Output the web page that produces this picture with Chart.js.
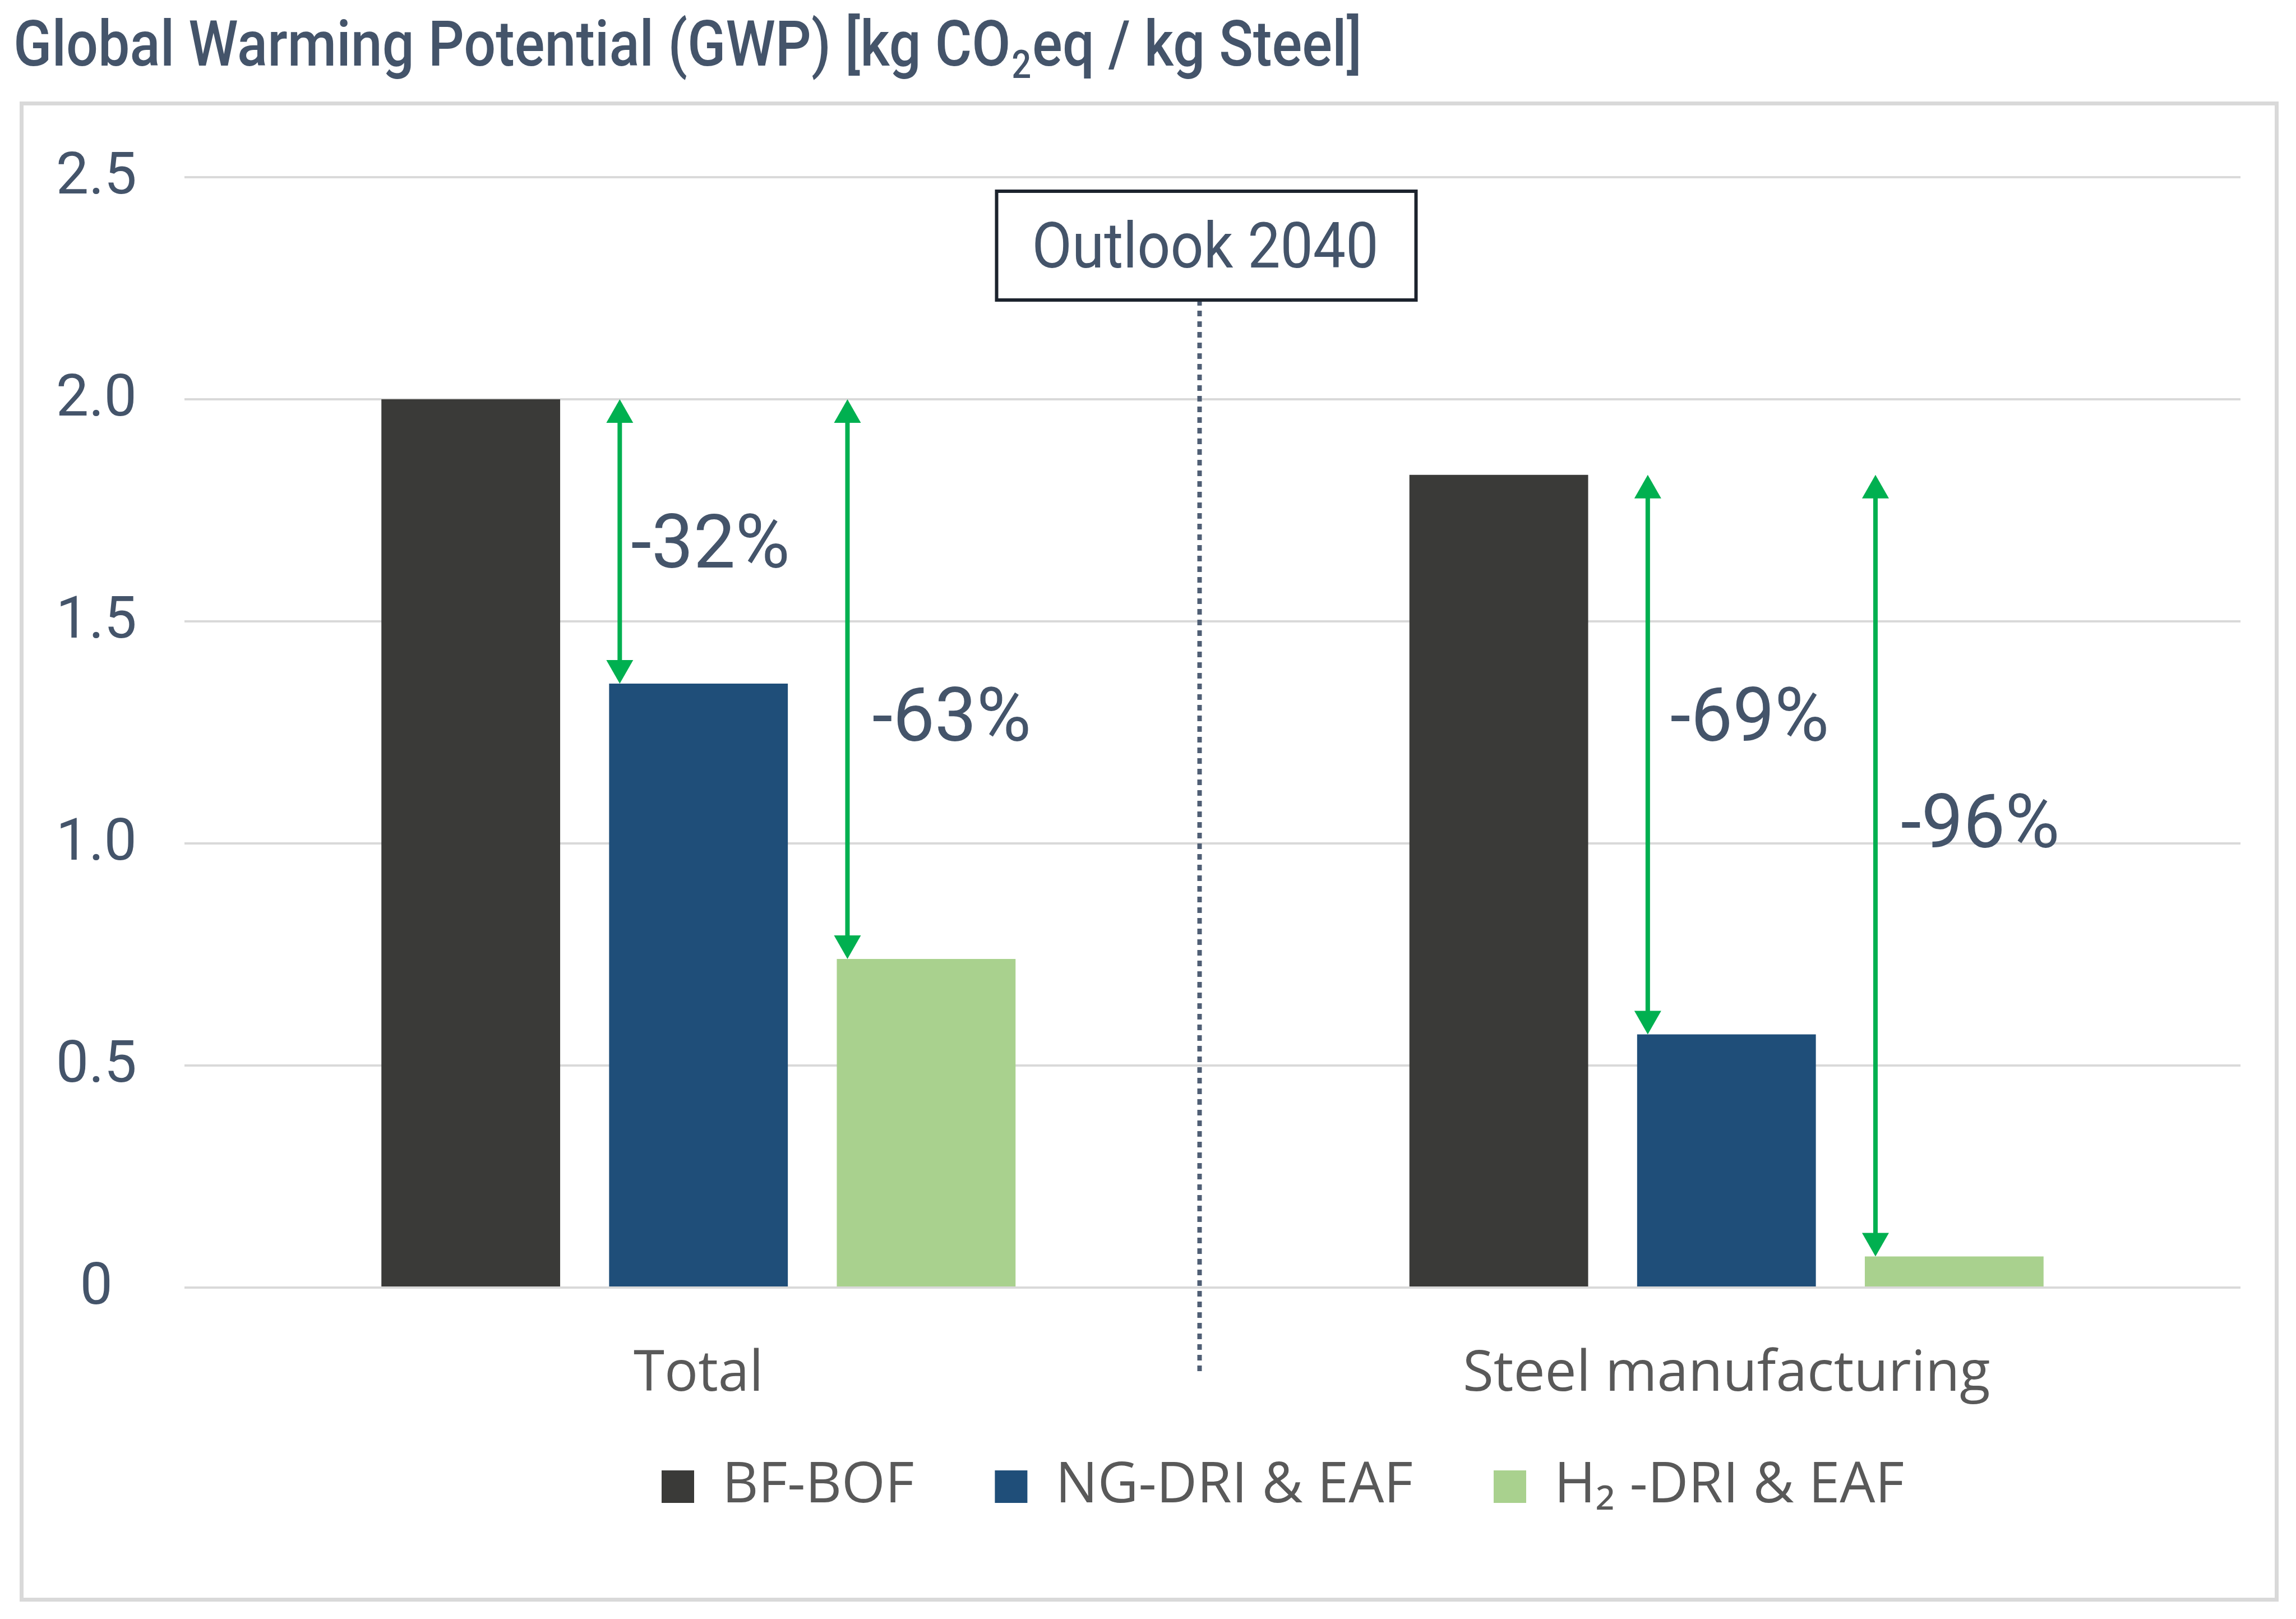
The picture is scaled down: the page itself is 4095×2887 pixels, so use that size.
<!DOCTYPE html>
<html>
<head>
<meta charset="utf-8">
<script src="https://cdn.jsdelivr.net/npm/chart.js@4/dist/chart.umd.min.js"></script>
<style>
  html, body { margin: 0; padding: 0; background: #ffffff; }
  canvas { display: block; }
</style>
</head>
<body>
<canvas id="c" width="4095" height="2887" style="width:4095px;height:2887px"></canvas>
<script>
// ---------- data ----------
const categories = ['Total', 'Steel manufacturing'];
const seriesLabels = ['BF-BOF', 'NG-DRI & EAF', 'H\u2082 -DRI & EAF'];
const bfBofValues = [2.0, 1.83];
const ngDriValues = [1.36, 0.57];
const h2DriValues = [0.74, 0.07];
const yTickLabels = ['0', '0.5', '1.0', '1.5', '2.0', '2.5'];
const reductionLabels = ['-32%', '-63%', '-69%', '-96%'];
const reductionCategory = [0, 0, 1, 1];
const reductionTarget = [1, 2, 1, 2];
const reductionLabelLevel = [1.68, 1.29, 1.29, 1.05];
const titleParts = ['Global Warming Potential (GWP) [kg CO', '2', 'eq / kg Steel]'];
const outlookLabel = 'Outlook 2040';

// ---------- styles / layout ----------
const seriesColors = ['#3a3a38', '#1f4e79', '#a9d18e'];
const TEXT_DARK = '#44546a';
const TEXT_GRAY = '#595959';
const ARROW = '#00b050';
const L = {
  plotLeft: 329, plotBottom: 2296,
  legendX: 1180, legendY: 2651,
  arrowInset: 19, arrowHeadW: 48, arrowHeadL: 42, arrowLW: 8,
  pctDx: [20, 44, 40, 45],
  dividerShift: -23, boxShift: 12,
  boxTop: 341, boxH: 194, boxW: 748,
  dividerBottom: 2450
};

const overlay = {
  id: 'overlay',
  beforeDraw(chart) {
    const ctx = chart.ctx;
    ctx.save();
    ctx.fillStyle = '#ffffff';
    ctx.fillRect(0, 0, chart.width, chart.height);
    ctx.strokeStyle = '#d9d9d9';
    ctx.lineWidth = 7;
    ctx.strokeRect(38.5, 184.5, 4022, 2668);
    ctx.restore();
    const lg = chart.legend;
    if (lg) {
      const p = lg.options.labels.padding;
      lg.left = L.legendX - p;
      lg.top = L.legendY - 50 - p;
      lg.bottom = chart.height;
    }
  },
  afterDraw(chart) {
    const ctx = chart.ctx;
    const xs = chart.scales.x, ys = chart.scales.y;

    // Title
    ctx.save();
    ctx.fillStyle = TEXT_DARK;
    ctx.textBaseline = 'alphabetic';
    ctx.textAlign = 'left';
    ctx.font = '500 114px Roboto';
    const w1 = ctx.measureText(titleParts[0]).width;
    const w3 = ctx.measureText(titleParts[2]).width;
    ctx.font = '500 70px Roboto';
    const w2 = ctx.measureText(titleParts[1]).width + 4;
    const sx = 2405 / (w1 + w2 + w3);
    ctx.translate(24, 117);
    ctx.scale(sx, 1);
    ctx.font = '500 114px Roboto';
    ctx.fillText(titleParts[0], 0, 0);
    ctx.font = '500 70px Roboto';
    ctx.fillText(titleParts[1], w1 + 2, 22);
    ctx.font = '500 114px Roboto';
    ctx.fillText(titleParts[2], w1 + w2, 0);
    ctx.restore();

    // Divider + Outlook box
    const mid = (xs.getPixelForValue(0) + xs.getPixelForValue(1)) / 2;
    const dx = mid + L.dividerShift;
    const bx = dx + L.boxShift;
    ctx.save();
    ctx.strokeStyle = '#4f5e74';
    ctx.lineWidth = 8;
    ctx.setLineDash([10, 9]);
    ctx.beginPath();
    ctx.moveTo(dx, L.boxTop + L.boxH);
    ctx.lineTo(dx, L.dividerBottom);
    ctx.stroke();
    ctx.setLineDash([]);
    ctx.fillStyle = '#ffffff';
    ctx.fillRect(bx - L.boxW / 2, L.boxTop, L.boxW, L.boxH);
    ctx.strokeStyle = '#1c232d';
    ctx.lineWidth = 6;
    ctx.strokeRect(bx - L.boxW / 2, L.boxTop, L.boxW, L.boxH);
    ctx.fillStyle = TEXT_DARK;
    ctx.font = '114px Roboto';
    ctx.textAlign = 'center';
    ctx.textBaseline = 'alphabetic';
    const ow = ctx.measureText(outlookLabel).width;
    ctx.translate(bx - 2, L.boxTop + 136);
    ctx.scale(618 / ow, 1);
    ctx.fillText(outlookLabel, 0, 0);
    ctx.restore();

    // Arrows + reduction labels
    ctx.save();
    for (let i = 0; i < reductionLabels.length; i++) {
      const c = reductionCategory[i];
      const tMeta = chart.getDatasetMeta(reductionTarget[i]);
      const bar = tMeta.data[c];
      const ax = bar.x - bar.width / 2 + L.arrowInset;
      const yTop = ys.getPixelForValue(chart.data.datasets[0].data[c]);
      const yBot = ys.getPixelForValue(chart.data.datasets[reductionTarget[i]].data[c]);
      ctx.strokeStyle = ARROW;
      ctx.fillStyle = ARROW;
      ctx.lineWidth = L.arrowLW;
      ctx.beginPath();
      ctx.moveTo(ax, yTop + L.arrowHeadL - 2);
      ctx.lineTo(ax, yBot - L.arrowHeadL + 2);
      ctx.stroke();
      ctx.beginPath();
      ctx.moveTo(ax, yTop);
      ctx.lineTo(ax - L.arrowHeadW / 2, yTop + L.arrowHeadL);
      ctx.lineTo(ax + L.arrowHeadW / 2, yTop + L.arrowHeadL);
      ctx.closePath();
      ctx.fill();
      ctx.beginPath();
      ctx.moveTo(ax, yBot);
      ctx.lineTo(ax - L.arrowHeadW / 2, yBot - L.arrowHeadL);
      ctx.lineTo(ax + L.arrowHeadW / 2, yBot - L.arrowHeadL);
      ctx.closePath();
      ctx.fill();

      ctx.fillStyle = TEXT_DARK;
      ctx.font = '133px Roboto';
      ctx.textAlign = 'left';
      ctx.textBaseline = 'alphabetic';
      const ly = ys.getPixelForValue(reductionLabelLevel[i]);
      ctx.fillText(reductionLabels[i], ax + L.pctDx[i], ly + 47);
    }
    ctx.restore();
  }
};

function makeChart() {
  const ctx = document.getElementById('c').getContext('2d');
  new Chart(ctx, {
    type: 'bar',
    data: {
      labels: categories,
      datasets: [
        { label: seriesLabels[0], data: bfBofValues, backgroundColor: seriesColors[0] },
        { label: seriesLabels[1], data: ngDriValues, backgroundColor: seriesColors[1] },
        { label: seriesLabels[2], data: h2DriValues, backgroundColor: seriesColors[2] }
      ]
    },
    options: {
      responsive: false,
      animation: false,
      devicePixelRatio: 1,
      datasets: { bar: { categoryPercentage: 0.6645, barPercentage: 0.785, borderWidth: 0 } },
      layout: { padding: { left: 40, right: 99, top: 316, bottom: 0 } },
      plugins: {
        title: { display: false },
        tooltip: { enabled: false },
        legend: {
          display: true,
          position: 'bottom',
          align: 'start',
          labels: {
            boxWidth: 58, boxHeight: 58, padding: 144,
            color: TEXT_GRAY,
            font: { family: "'Open Sans'", size: 100 }
          }
        }
      },
      scales: {
        x: {
          grid: { display: false },
          border: { display: false },
          ticks: { color: TEXT_GRAY, font: { family: "'Open Sans'", size: 100 }, padding: 88, maxRotation: 0 },
          afterFit(s) {
            const lh = s.chart.legend ? s.chart.legend.height : 0;
            s.height = s.chart.height - lh - L.plotBottom;
          }
        },
        y: {
          min: 0, max: 2.5,
          grid: { color: '#d9d9d9', lineWidth: 4, drawTicks: false },
          border: { display: false },
          ticks: {
            stepSize: 0.5,
            color: TEXT_DARK,
            font: { family: 'Roboto', size: 104 },
            padding: 85,
            crossAlign: 'center',
            labelOffset: 3,
            callback: (v, i) => yTickLabels[i]
          },
          afterFit(s) { s.width = L.plotLeft - 40; }
        }
      }
    },
    plugins: [overlay]
  });
}

Promise.all(['500 114px Roboto', '104px Roboto', '133px Roboto', '100px "Open Sans"'].map(f => document.fonts.load(f)))
  .then(makeChart, makeChart);
</script>
</body>
</html>
